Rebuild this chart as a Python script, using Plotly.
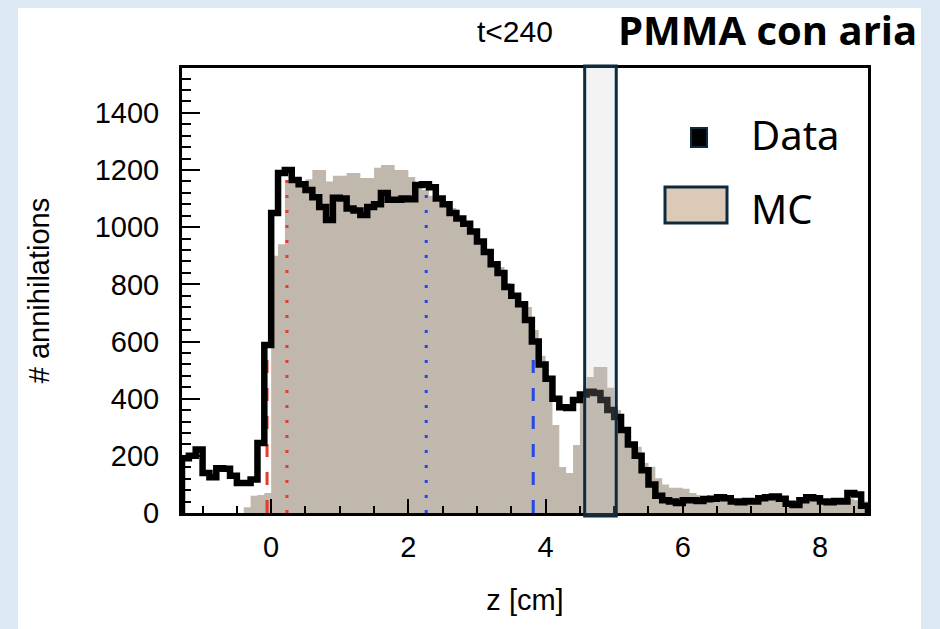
import numpy as np
import plotly.graph_objects as go

# ---------------- data ----------------
bin_start = -1.3
bin_width = 0.1

data_counts = [192, 200, 222, 140, 125, 157, 155, 130, 105, 105, 117, 245, 588,
               1050, 1190, 1200, 1165, 1150, 1130, 1105, 1071, 1025, 1103,
               1100, 1065, 1058, 1043, 1071, 1080, 1120, 1096, 1096, 1100,
               1098, 1148, 1150, 1140, 1100, 1080, 1050, 1030, 1012, 985,
               950, 913, 870, 840, 791, 760, 730, 675, 600, 520,
               470, 400, 370, 367, 395, 415, 424, 420, 395, 360,
               336, 290, 240, 200, 150, 100, 60, 45, 40, 35,
               45, 45, 42, 48, 50, 55, 52, 40, 38, 42,
               40, 52, 55, 58, 50, 32, 28, 45, 55, 52,
               40, 38, 42, 40, 70, 65, 25]

mc_counts = [0, 0, 0, 0, 0, 0, 0, 0, 0, 20, 60, 63, 70,
             900, 940, 1165, 1165, 1162, 1168, 1200, 1200, 1160, 1180,
             1180, 1190, 1190, 1172, 1172, 1208, 1218, 1218, 1200, 1200,
             1176, 1150, 1130, 1110, 1090, 1075, 1067, 1035, 1000, 975,
             950, 910, 861, 861, 805, 765, 721, 721, 640, 550,
             465, 308, 161, 140, 238, 424, 476, 511, 511, 438,
             360, 290, 249, 232, 175, 162, 122, 100, 88, 88,
             85, 70, 63, 63, 58, 50, 48, 45, 45, 48,
             45, 45, 50, 48, 45, 40, 42, 45, 45, 45,
             42, 40, 42, 45, 50, 45, 40]

# vertical reference lines: position [cm], height, colour, dash
ref_z = [-0.06, 0.23, 2.26, 3.82]
ref_h = [580, 1170, 1125, 570]
ref_color = ["#e8392e", "#e8392e", "#2448e6", "#2448e6"]
ref_dash = ["13px,15px", "3px,12px", "3px,12px", "13px,15px"]

box_z = [4.57, 5.03]

x_range = [-1.3, 8.7]
y_range = [0, 1557]
x_ticks = [0, 2, 4, 6, 8]
y_ticks = [0, 200, 400, 600, 800, 1000, 1200, 1400]

# ---------------- figure ----------------
def edges_for(n):
    return bin_start + bin_width * np.arange(n + 1)

fig = go.Figure()

# MC filled histogram
e_mc = edges_for(len(mc_counts))
fig.add_trace(go.Scatter(
    x=list(e_mc), y=list(mc_counts) + [mc_counts[-1]],
    mode="lines", line=dict(shape="hv", color="#c0b7ad", width=0),
    fill="tozeroy", fillcolor="#c0b7ad", hoverinfo="skip", showlegend=False))

# reference lines
for z, h, c, d in zip(ref_z, ref_h, ref_color, ref_dash):
    fig.add_trace(go.Scatter(x=[z, z], y=[0, h], mode="lines",
                             line=dict(color=c, width=3, dash=d),
                             hoverinfo="skip", showlegend=False))

# Data step histogram
e_d = edges_for(len(data_counts))
dx = [e_d[0]] + list(e_d) + [e_d[-1]]
dy = [0] + list(data_counts) + [data_counts[-1], 0]
fig.add_trace(go.Scatter(x=dx, y=dy, mode="lines",
                         line=dict(shape="hv", color="black", width=6.5),
                         hoverinfo="skip", showlegend=False))

W, H = 940, 629
ml, mr, mt, mb = 182, 72, 68, 116
pw, ph = W - ml - mr, H - mt - mb

def px(xp):
    return (xp - ml) / pw

def py(yp):
    return (H - mb - yp) / ph

shapes = [
    # white card over light-blue background
    dict(type="rect", xref="paper", yref="paper", x0=px(18), x1=px(921),
         y0=py(640), y1=py(8), fillcolor="white", line=dict(width=0), layer="below"),
    # highlighted region
    dict(type="rect", xref="x", yref="paper", x0=box_z[0], x1=box_z[1],
         y0=py(516), y1=py(66), fillcolor="rgba(200,200,200,0.21)",
         line=dict(color="#0d2b3e", width=3), layer="above"),
    # legend: Data marker
    dict(type="rect", xref="paper", yref="paper", x0=px(691), x1=px(707),
         y0=py(147), y1=py(128), fillcolor="black",
         line=dict(color="#0d2b3e", width=2), layer="above"),
    # legend: MC box
    dict(type="rect", xref="paper", yref="paper", x0=px(665), x1=px(727),
         y0=py(223), y1=py(187), fillcolor="#dccab6",
         line=dict(color="#0d2b3e", width=3), layer="above"),
]

annotations = [
    dict(text="Data", xref="paper", yref="paper", x=px(749), y=py(134),
         xanchor="left", yanchor="middle", showarrow=False,
         font=dict(family="Noto Sans, Open Sans, sans-serif", size=40, color="black")),
    dict(text="MC", xref="paper", yref="paper", x=px(749), y=py(208),
         xanchor="left", yanchor="middle", showarrow=False,
         font=dict(family="Noto Sans, Open Sans, sans-serif", size=40, color="black")),
    dict(text="t&lt;240", xref="paper", yref="paper", x=px(515), y=py(32),
         xanchor="center", yanchor="middle", showarrow=False,
         font=dict(family="Liberation Sans Narrow, Liberation Sans, Arial", size=30, color="black")),
    dict(text="<b>PMMA con aria</b>", xref="paper", yref="paper", x=px(919), y=py(30),
         xanchor="right", yanchor="middle", showarrow=False,
         font=dict(family="Open Sans, sans-serif", size=40, color="black")),
]

axis_font = dict(family="Liberation Sans, Arial, sans-serif", size=29, color="black")

fig.update_layout(
    width=W, height=H,
    margin=dict(l=ml, r=mr, t=mt, b=mb, pad=0),
    paper_bgcolor="#dce8f4", plot_bgcolor="white",
    shapes=shapes, annotations=annotations, showlegend=False,
    xaxis=dict(range=x_range, tickvals=x_ticks, ticks="inside", ticklen=14,
               tickwidth=2, tickcolor="black", showline=True, linewidth=3,
               linecolor="black", mirror=True, showgrid=False, zeroline=False,
               tickfont=axis_font, ticklabelstandoff=6,
               minor=dict(dtick=0.5, tick0=0, ticks="inside", ticklen=7,
                          tickwidth=2, tickcolor="black", showgrid=False),
               title=dict(text="z [cm]", font=axis_font, standoff=28)),
    yaxis=dict(range=y_range, tickvals=y_ticks, ticks="inside", ticklen=18,
               tickwidth=2, tickcolor="black", showline=True, linewidth=3,
               linecolor="black", mirror=True, showgrid=False, zeroline=False,
               tickfont=axis_font, ticklabelstandoff=14,
               minor=dict(dtick=40, tick0=0, ticks="inside", ticklen=9,
                          tickwidth=2, tickcolor="black", showgrid=False),
               title=dict(text="# annihilations", font=axis_font, standoff=37)),
)

fig.write_html("out.html", config={"displayModeBar": False},
               post_script="document.body.style.margin='0';document.body.style.overflow='hidden';")
